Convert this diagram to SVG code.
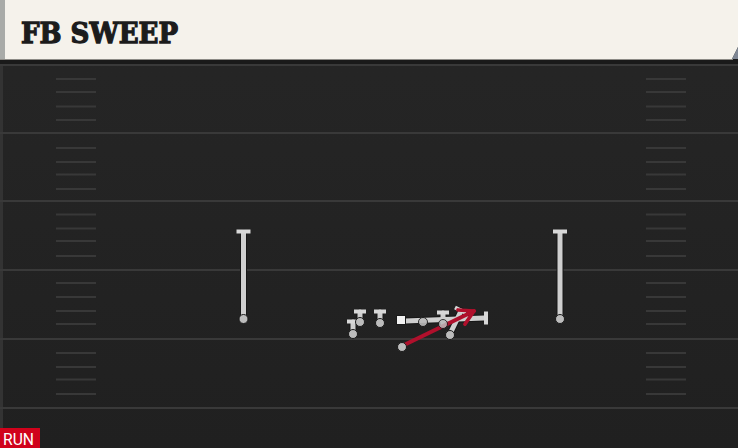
<svg xmlns="http://www.w3.org/2000/svg" width="738" height="448" viewBox="0 0 738 448">
<defs>
<linearGradient id="fieldGrad" x1="0" y1="0" x2="0" y2="1">
<stop offset="0" stop-color="#262626"/>
<stop offset="1" stop-color="#202020"/>
</linearGradient>
<marker id="redArrow" viewBox="0 0 10 10" refX="8" refY="5" markerWidth="5" markerHeight="5" orient="auto" markerUnits="strokeWidth">
<path d="M1,1 L8,5 L1,9" fill="none" stroke="#b0102c" stroke-width="1.8" stroke-linecap="round" stroke-linejoin="round"/>
</marker>
</defs>
<style>
.yard{stroke:#393939;stroke-width:2}
.hash{stroke:#383838;stroke-width:2}
.edge{stroke:#161616;stroke-linecap:round;fill:none}
.route{stroke:#cfcfcf;stroke-linecap:round;fill:none}
.bar{stroke:#d8d8d8;stroke-width:4;stroke-linecap:butt}
.dot{fill:#bcbcbc;stroke:#1a1a1a;stroke-width:1}
.title{font-family:"DejaVu Serif",serif;font-weight:bold;font-size:28px;fill:#1c1c1c;stroke:#1c1c1c;stroke-width:1.3;stroke-linejoin:miter}
.tag{font-family:"Roboto","Liberation Sans",sans-serif;font-size:16.5px;fill:#ffffff}
</style>

<rect x="0" y="0" width="738" height="448" fill="url(#fieldGrad)"/>
<rect x="0" y="60" width="3" height="388" fill="#333333"/>

<g id="field">
<rect x="0" y="59" width="738" height="5" fill="#1a1a1a"/>
<line class="yard" x1="0" y1="65" x2="738" y2="65"/>
<line class="yard" x1="0" y1="133" x2="738" y2="133"/>
<line class="yard" x1="0" y1="201" x2="738" y2="201"/>
<line class="yard" x1="0" y1="270" x2="738" y2="270"/>
<line class="yard" x1="0" y1="339" x2="738" y2="339"/>
<line class="yard" x1="0" y1="408" x2="738" y2="408"/>
<g id="hashes-left">
<line class="hash" x1="56" y1="79" x2="96" y2="79"/>
<line class="hash" x1="56" y1="92" x2="96" y2="92"/>
<line class="hash" x1="56" y1="106.5" x2="96" y2="106.5"/>
<line class="hash" x1="56" y1="120" x2="96" y2="120"/>
<line class="hash" x1="56" y1="148" x2="96" y2="148"/>
<line class="hash" x1="56" y1="162" x2="96" y2="162"/>
<line class="hash" x1="56" y1="174.5" x2="96" y2="174.5"/>
<line class="hash" x1="56" y1="189" x2="96" y2="189"/>
<line class="hash" x1="56" y1="214.5" x2="96" y2="214.5"/>
<line class="hash" x1="56" y1="228.5" x2="96" y2="228.5"/>
<line class="hash" x1="56" y1="241" x2="96" y2="241"/>
<line class="hash" x1="56" y1="256" x2="96" y2="256"/>
<line class="hash" x1="56" y1="283" x2="96" y2="283"/>
<line class="hash" x1="56" y1="297" x2="96" y2="297"/>
<line class="hash" x1="56" y1="311" x2="96" y2="311"/>
<line class="hash" x1="56" y1="324" x2="96" y2="324"/>
<line class="hash" x1="56" y1="353" x2="96" y2="353"/>
<line class="hash" x1="56" y1="367" x2="96" y2="367"/>
<line class="hash" x1="56" y1="379.5" x2="96" y2="379.5"/>
<line class="hash" x1="56" y1="394" x2="96" y2="394"/>
</g>
<g id="hashes-right">
<line class="hash" x1="646" y1="79" x2="686" y2="79"/>
<line class="hash" x1="646" y1="92" x2="686" y2="92"/>
<line class="hash" x1="646" y1="106.5" x2="686" y2="106.5"/>
<line class="hash" x1="646" y1="120" x2="686" y2="120"/>
<line class="hash" x1="646" y1="148" x2="686" y2="148"/>
<line class="hash" x1="646" y1="162" x2="686" y2="162"/>
<line class="hash" x1="646" y1="174.5" x2="686" y2="174.5"/>
<line class="hash" x1="646" y1="189" x2="686" y2="189"/>
<line class="hash" x1="646" y1="214.5" x2="686" y2="214.5"/>
<line class="hash" x1="646" y1="228.5" x2="686" y2="228.5"/>
<line class="hash" x1="646" y1="241" x2="686" y2="241"/>
<line class="hash" x1="646" y1="256" x2="686" y2="256"/>
<line class="hash" x1="646" y1="283" x2="686" y2="283"/>
<line class="hash" x1="646" y1="297" x2="686" y2="297"/>
<line class="hash" x1="646" y1="311" x2="686" y2="311"/>
<line class="hash" x1="646" y1="324" x2="686" y2="324"/>
<line class="hash" x1="646" y1="353" x2="686" y2="353"/>
<line class="hash" x1="646" y1="367" x2="686" y2="367"/>
<line class="hash" x1="646" y1="379.5" x2="686" y2="379.5"/>
<line class="hash" x1="646" y1="394" x2="686" y2="394"/>
</g>
</g>

<g id="header">
<path d="M0,0 H738 V47 L732,59 H0 Z" fill="#f5f2eb"/>
<path d="M738,47 L732,59 H738 Z" fill="#7f8794"/>
<rect x="0" y="0" width="5" height="59" fill="#a9aba8"/>
<line x1="0" y1="59.5" x2="733" y2="59.5" stroke="#8d8b86" stroke-width="1"/>
<text class="title" x="21" y="42.5" textLength="157" lengthAdjust="spacingAndGlyphs">FB SWEEP</text>
</g>

<g id="connectors">
<line class="edge" x1="243.5" y1="233" x2="243.5" y2="318" stroke-width="7"/>
<line class="edge" x1="560" y1="233" x2="560" y2="318" stroke-width="7"/>
<line class="edge" x1="360" y1="312" x2="360" y2="322" stroke-width="7"/>
<line class="edge" x1="353" y1="322" x2="353" y2="333" stroke-width="7"/>
<line class="edge" x1="380" y1="312" x2="380" y2="322" stroke-width="7"/>
<line class="edge" x1="443" y1="313" x2="443" y2="323" stroke-width="7"/>
<line class="edge" x1="405" y1="321" x2="484" y2="318" stroke-width="7"/>
<line class="edge" x1="450" y1="334" x2="461" y2="311" stroke-width="7"/>
<line class="route" x1="243.5" y1="233" x2="243.5" y2="318" stroke-width="5"/>
<line class="route" x1="560" y1="233" x2="560" y2="318" stroke-width="5"/>
<line class="route" x1="360" y1="312" x2="360" y2="322" stroke-width="5"/>
<line class="route" x1="353" y1="322" x2="353" y2="333" stroke-width="5"/>
<line class="route" x1="380" y1="312" x2="380" y2="322" stroke-width="5"/>
<line class="route" x1="443" y1="313" x2="443" y2="323" stroke-width="5"/>
<line class="route" x1="405" y1="321" x2="484" y2="318" stroke-width="5"/>
<line class="route" x1="450" y1="334" x2="461" y2="311" stroke-width="5"/>
<line class="bar" x1="236.5" y1="231.5" x2="250.5" y2="231.5"/>
<line class="bar" x1="553" y1="231.5" x2="567" y2="231.5"/>
<line class="bar" x1="354" y1="311.5" x2="366" y2="311.5"/>
<line class="bar" x1="347" y1="321.5" x2="359" y2="321.5"/>
<line class="bar" x1="374" y1="311.5" x2="386" y2="311.5"/>
<line class="bar" x1="437" y1="312.5" x2="449" y2="312.5"/>
<line class="bar" x1="486" y1="311.5" x2="486" y2="324.5"/>
<line class="bar" x1="455" y1="307.5" x2="466" y2="313"/>
<line x1="402" y1="346" x2="474" y2="311" stroke="#b0102c" stroke-width="4" stroke-linecap="round" marker-end="url(#redArrow)"/>
</g>

<g id="players">
<circle id="wr-left" class="dot" cx="243.5" cy="319" r="4.5"/>
<circle id="wr-right" class="dot" cx="560" cy="319" r="4.5"/>
<circle id="te" class="dot" cx="353" cy="334" r="4.5"/>
<circle id="lt" class="dot" cx="360" cy="322" r="4.5"/>
<circle id="lg" class="dot" cx="380" cy="323" r="4.5"/>
<rect id="center" x="396.5" y="315.5" width="9" height="9" fill="#f2f2f2" stroke="#1a1a1a" stroke-width="1"/>
<circle id="rg" class="dot" cx="423" cy="322" r="4.5" opacity="0.9"/>
<circle id="rt" class="dot" cx="443" cy="324" r="4.5" opacity="0.85"/>
<circle id="fb" class="dot" cx="450" cy="335" r="4.5"/>
<circle id="rb" class="dot" cx="402" cy="347" r="4.5"/>
</g>

<g id="label">
<rect x="0" y="428" width="40" height="20" fill="#d0021b"/>
<text class="tag" x="3" y="445" textLength="31" lengthAdjust="spacingAndGlyphs">RUN</text>
</g>
</svg>
